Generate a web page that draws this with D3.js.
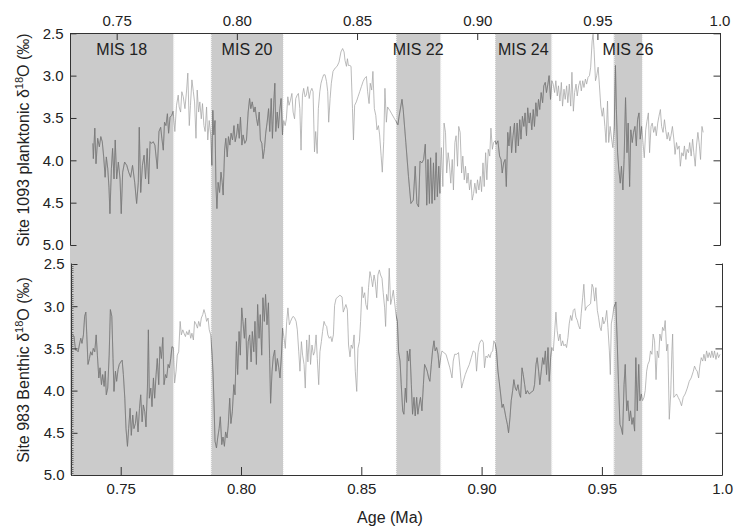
<!DOCTYPE html>
<html><head><meta charset="utf-8">
<script src="https://cdn.jsdelivr.net/npm/d3@7"></script>
<style>
body{margin:0;background:#fff}
text{font-family:"Liberation Sans",Arial,Helvetica,sans-serif;fill:#222}
</style>
</head><body>
<svg id="chart" width="739" height="530"></svg>
<script>
// ---- data: [age (Ma), δ18O (‰)] ----
const site1093 = [[0.7401,3.80],[0.7403,3.98],[0.7409,3.62],[0.7414,4.04],[0.7421,3.74],[0.7428,3.84],[0.7434,3.72],[0.7440,3.78],[0.7446,3.96],[0.7452,4.20],[0.7457,3.96],[0.7463,4.10],[0.7468,4.32],[0.7472,4.63],[0.7478,4.10],[0.7483,3.86],[0.7489,4.22],[0.7494,3.76],[0.7500,4.22],[0.7507,4.02],[0.7514,4.22],[0.7519,4.63],[0.7525,4.14],[0.7533,4.02],[0.7542,4.06],[0.7550,4.14],[0.7558,4.20],[0.7566,4.06],[0.7575,4.26],[0.7583,4.51],[0.7590,4.26],[0.7594,3.61],[0.7600,4.38],[0.7607,4.06],[0.7614,3.94],[0.7620,4.22],[0.7627,3.86],[0.7633,4.28],[0.7639,3.78],[0.7645,3.80],[0.7652,3.78],[0.7659,3.82],[0.7669,4.10],[0.7676,3.66],[0.7683,3.61],[0.7688,3.74],[0.7694,3.88],[0.7699,3.55],[0.7705,3.59],[0.7711,3.45],[0.7716,3.68],[0.7722,3.49],[0.7729,3.47],[0.7735,3.42],[0.7742,3.66],[0.7749,3.35],[0.7756,3.23],[0.7760,3.37],[0.7766,3.43],[0.7771,3.19],[0.7777,3.25],[0.7784,3.39],[0.7791,3.17],[0.7796,2.97],[0.7802,3.59],[0.7807,3.35],[0.7813,3.05],[0.7819,3.19],[0.7824,3.31],[0.7830,3.74],[0.7835,3.17],[0.7841,3.43],[0.7846,3.31],[0.7852,3.51],[0.7857,3.33],[0.7863,3.59],[0.7868,3.66],[0.7874,3.37],[0.7879,3.76],[0.7885,3.53],[0.7891,3.70],[0.7896,4.06],[0.7900,3.41],[0.7904,3.70],[0.7909,3.53],[0.7913,4.30],[0.7917,4.57],[0.7922,4.26],[0.7928,4.38],[0.7934,4.14],[0.7939,4.26],[0.7943,4.41],[0.7949,3.88],[0.7954,3.74],[0.7960,3.96],[0.7965,3.72],[0.7971,3.82],[0.7976,3.68],[0.7982,3.76],[0.7988,3.59],[0.7993,3.78],[0.7999,3.70],[0.8004,3.57],[0.8010,3.74],[0.8015,3.49],[0.8021,3.82],[0.8026,3.70],[0.8033,3.80],[0.8040,3.76],[0.8047,3.43],[0.8053,3.27],[0.8058,3.39],[0.8064,3.31],[0.8071,3.43],[0.8076,3.37],[0.8082,3.51],[0.8087,3.59],[0.8093,3.43],[0.8098,3.76],[0.8104,3.80],[0.8109,3.98],[0.8115,3.86],[0.8120,3.68],[0.8126,3.55],[0.8132,3.39],[0.8137,3.66],[0.8143,3.27],[0.8148,3.74],[0.8154,3.29],[0.8158,3.09],[0.8162,3.66],[0.8168,3.43],[0.8173,3.62],[0.8179,3.39],[0.8184,3.27],[0.8190,3.70],[0.8195,3.53],[0.8201,3.59],[0.8206,3.51],[0.8212,3.25],[0.8217,3.35],[0.8223,3.29],[0.8229,3.21],[0.8234,3.43],[0.8240,3.51],[0.8245,3.27],[0.8251,3.23],[0.8256,3.21],[0.8262,3.39],[0.8267,3.88],[0.8273,3.23],[0.8278,3.15],[0.8284,3.25],[0.8289,3.23],[0.8295,3.13],[0.8301,3.27],[0.8306,3.19],[0.8312,3.15],[0.8317,3.19],[0.8323,3.90],[0.8328,3.66],[0.8334,3.92],[0.8339,3.39],[0.8345,3.19],[0.8350,3.09],[0.8356,3.03],[0.8361,2.99],[0.8367,2.99],[0.8373,3.07],[0.8378,3.19],[0.8382,3.55],[0.8388,3.27],[0.8393,3.09],[0.8400,2.95],[0.8409,2.91],[0.8417,2.89],[0.8425,2.84],[0.8433,2.72],[0.8440,2.68],[0.8446,2.72],[0.8450,2.82],[0.8456,2.89],[0.8460,2.80],[0.8464,2.88],[0.8470,2.88],[0.8475,2.89],[0.8481,3.39],[0.8485,3.76],[0.8490,3.35],[0.8497,3.31],[0.8504,3.25],[0.8511,3.19],[0.8518,3.13],[0.8525,3.07],[0.8532,3.03],[0.8539,3.01],[0.8544,3.19],[0.8550,3.33],[0.8555,3.09],[0.8561,3.17],[0.8566,2.95],[0.8572,3.39],[0.8578,3.47],[0.8583,3.64],[0.8589,3.59],[0.8594,3.70],[0.8600,3.94],[0.8605,4.14],[0.8611,3.78],[0.8616,3.15],[0.8622,3.55],[0.8627,3.37],[0.8636,3.41],[0.8644,3.45],[0.8656,3.51],[0.8670,3.58],[0.8675,3.48],[0.8687,3.28],[0.8692,3.40],[0.8703,3.79],[0.8714,4.19],[0.8724,4.51],[0.8734,4.47],[0.8742,4.07],[0.8749,4.51],[0.8756,4.55],[0.8762,4.01],[0.8770,4.03],[0.8777,3.99],[0.8784,3.81],[0.8790,4.53],[0.8795,3.99],[0.8801,4.51],[0.8806,3.97],[0.8812,4.51],[0.8818,4.03],[0.8823,4.47],[0.8829,3.91],[0.8834,4.43],[0.8840,4.07],[0.8845,4.39],[0.8851,3.85],[0.8857,4.31],[0.8862,3.56],[0.8868,3.67],[0.8873,4.15],[0.8879,3.91],[0.8884,4.03],[0.8890,4.27],[0.8896,3.99],[0.8901,4.35],[0.8907,3.79],[0.8912,3.71],[0.8918,4.07],[0.8923,3.60],[0.8929,3.67],[0.8935,4.15],[0.8940,3.95],[0.8946,4.23],[0.8951,4.07],[0.8957,4.27],[0.8962,4.15],[0.8968,4.35],[0.8974,4.23],[0.8979,4.47],[0.8985,4.39],[0.8990,4.27],[0.8996,4.39],[0.9001,4.23],[0.9007,4.35],[0.9013,4.19],[0.9018,4.37],[0.9024,4.03],[0.9029,4.31],[0.9035,3.91],[0.9040,4.23],[0.9046,3.87],[0.9052,3.95],[0.9057,3.62],[0.9063,3.87],[0.9068,3.79],[0.9074,3.77],[0.9079,3.81],[0.9086,3.77],[0.9093,3.95],[0.9099,3.99],[0.9104,4.15],[0.9110,4.03],[0.9116,3.99],[0.9121,4.31],[0.9127,3.67],[0.9132,3.83],[0.9138,3.60],[0.9143,3.91],[0.9149,3.71],[0.9155,3.56],[0.9160,3.91],[0.9166,3.56],[0.9171,3.83],[0.9177,3.52],[0.9182,3.75],[0.9188,3.48],[0.9194,3.60],[0.9199,3.44],[0.9205,3.71],[0.9210,3.38],[0.9216,3.56],[0.9221,3.44],[0.9227,3.64],[0.9233,3.40],[0.9238,3.60],[0.9244,3.32],[0.9249,3.48],[0.9255,3.28],[0.9260,3.40],[0.9266,3.20],[0.9272,3.32],[0.9277,3.12],[0.9283,3.08],[0.9288,3.20],[0.9294,3.10],[0.9299,3.00],[0.9305,3.28],[0.9311,3.06],[0.9316,3.10],[0.9322,3.20],[0.9327,3.06],[0.9333,3.24],[0.9338,3.12],[0.9344,3.30],[0.9350,3.08],[0.9355,3.36],[0.9361,3.16],[0.9366,3.28],[0.9372,3.12],[0.9377,3.32],[0.9383,3.10],[0.9389,3.36],[0.9394,2.96],[0.9400,3.42],[0.9405,3.20],[0.9411,3.10],[0.9416,3.24],[0.9422,3.12],[0.9428,3.06],[0.9433,3.18],[0.9439,3.06],[0.9444,3.14],[0.9450,3.04],[0.9455,3.10],[0.9461,3.02],[0.9467,3.00],[0.9472,2.90],[0.9478,2.59],[0.9482,2.51],[0.9486,2.69],[0.9492,3.06],[0.9497,3.00],[0.9503,2.90],[0.9508,3.10],[0.9514,3.36],[0.9520,3.48],[0.9525,3.38],[0.9531,3.60],[0.9536,3.79],[0.9542,3.30],[0.9547,3.79],[0.9553,3.60],[0.9559,3.75],[0.9564,3.85],[0.9570,3.60],[0.9575,2.88],[0.9579,3.40],[0.9584,3.91],[0.9589,4.11],[0.9595,4.27],[0.9600,4.07],[0.9606,4.35],[0.9611,3.99],[0.9617,3.26],[0.9623,3.91],[0.9628,3.56],[0.9634,4.31],[0.9639,3.64],[0.9645,3.79],[0.9650,3.67],[0.9656,3.60],[0.9662,3.83],[0.9667,3.52],[0.9673,3.44],[0.9678,3.75],[0.9684,3.60],[0.9689,3.77],[0.9695,3.97],[0.9701,3.64],[0.9706,3.54],[0.9712,3.44],[0.9717,3.91],[0.9723,3.60],[0.9728,3.56],[0.9734,3.67],[0.9740,3.60],[0.9745,3.71],[0.9751,3.56],[0.9756,3.48],[0.9762,3.40],[0.9767,3.60],[0.9773,3.67],[0.9779,3.52],[0.9784,3.64],[0.9790,3.75],[0.9795,3.67],[0.9801,3.77],[0.9806,3.71],[0.9812,3.60],[0.9818,3.75],[0.9823,3.93],[0.9829,3.79],[0.9834,3.87],[0.9840,3.83],[0.9845,4.07],[0.9851,3.91],[0.9857,3.95],[0.9862,3.83],[0.9868,3.99],[0.9873,3.87],[0.9879,3.91],[0.9884,3.79],[0.9890,3.95],[0.9896,3.75],[0.9901,3.91],[0.9907,4.07],[0.9912,3.83],[0.9918,3.67],[0.9923,3.79],[0.9929,3.99],[0.9935,3.60],[0.9940,3.67]];

const site983 = [[0.7301,3.34],[0.7306,3.36],[0.7312,3.52],[0.7317,3.52],[0.7323,3.54],[0.7328,3.46],[0.7334,3.38],[0.7339,3.44],[0.7345,3.34],[0.7350,3.12],[0.7355,3.07],[0.7359,3.34],[0.7364,3.69],[0.7370,3.62],[0.7375,3.54],[0.7381,3.58],[0.7386,3.50],[0.7392,3.54],[0.7398,3.34],[0.7403,3.58],[0.7409,3.85],[0.7414,3.73],[0.7420,3.93],[0.7425,3.81],[0.7431,3.95],[0.7436,3.77],[0.7440,4.05],[0.7446,3.97],[0.7452,3.58],[0.7457,3.04],[0.7463,3.12],[0.7468,3.62],[0.7472,4.01],[0.7478,3.77],[0.7483,3.89],[0.7489,3.75],[0.7494,3.69],[0.7500,3.66],[0.7506,3.64],[0.7511,3.81],[0.7517,4.09],[0.7522,4.45],[0.7528,4.66],[0.7533,4.45],[0.7539,4.21],[0.7544,4.53],[0.7550,4.29],[0.7555,4.45],[0.7561,4.39],[0.7566,4.25],[0.7572,4.49],[0.7578,4.21],[0.7583,4.05],[0.7589,4.37],[0.7594,4.17],[0.7600,4.25],[0.7605,4.43],[0.7611,3.97],[0.7615,3.28],[0.7619,4.09],[0.7625,3.97],[0.7630,4.19],[0.7636,3.85],[0.7641,4.09],[0.7647,3.81],[0.7652,3.62],[0.7658,3.93],[0.7663,3.48],[0.7669,3.62],[0.7675,3.37],[0.7680,3.93],[0.7686,3.81],[0.7691,3.85],[0.7697,3.69],[0.7702,3.73],[0.7708,3.62],[0.7713,3.48],[0.7719,3.49],[0.7724,3.91],[0.7730,3.77],[0.7735,3.58],[0.7741,3.54],[0.7747,3.18],[0.7752,3.34],[0.7758,3.28],[0.7763,3.32],[0.7769,3.36],[0.7774,3.30],[0.7780,3.34],[0.7785,3.28],[0.7791,3.38],[0.7796,3.32],[0.7802,3.40],[0.7807,3.18],[0.7813,3.21],[0.7819,3.26],[0.7824,3.18],[0.7830,3.24],[0.7835,3.14],[0.7841,3.10],[0.7846,3.04],[0.7852,3.10],[0.7857,3.18],[0.7863,3.14],[0.7868,3.28],[0.7874,3.34],[0.7880,3.58],[0.7884,3.81],[0.7888,4.17],[0.7892,4.60],[0.7898,4.68],[0.7903,4.56],[0.7909,4.45],[0.7914,4.31],[0.7920,4.64],[0.7925,4.55],[0.7931,4.66],[0.7936,4.49],[0.7942,4.56],[0.7947,4.41],[0.7953,4.09],[0.7958,4.39],[0.7964,4.25],[0.7970,3.93],[0.7975,4.05],[0.7981,3.42],[0.7986,3.81],[0.7992,3.30],[0.7997,3.58],[0.8003,3.02],[0.8008,3.18],[0.8014,3.38],[0.8019,3.14],[0.8025,3.75],[0.8030,3.42],[0.8036,3.34],[0.8042,3.66],[0.8047,3.30],[0.8053,3.54],[0.8058,3.18],[0.8064,3.69],[0.8069,2.98],[0.8075,3.38],[0.8080,3.10],[0.8086,3.58],[0.8091,2.90],[0.8097,3.18],[0.8102,2.86],[0.8108,3.22],[0.8114,2.96],[0.8119,3.62],[0.8123,4.15],[0.8129,3.77],[0.8134,3.60],[0.8140,3.52],[0.8145,3.77],[0.8151,3.62],[0.8157,3.73],[0.8162,3.85],[0.8168,3.58],[0.8173,3.26],[0.8179,3.38],[0.8184,3.50],[0.8190,3.18],[0.8195,3.02],[0.8201,3.22],[0.8206,3.18],[0.8212,3.14],[0.8217,3.12],[0.8223,3.14],[0.8229,3.18],[0.8234,3.28],[0.8240,3.54],[0.8245,3.77],[0.8251,3.42],[0.8256,3.58],[0.8262,3.69],[0.8267,3.97],[0.8273,3.40],[0.8278,3.66],[0.8284,3.34],[0.8289,3.69],[0.8295,3.46],[0.8301,3.58],[0.8306,3.54],[0.8312,3.34],[0.8317,3.62],[0.8323,3.93],[0.8328,3.54],[0.8334,3.42],[0.8339,3.30],[0.8345,3.18],[0.8350,3.22],[0.8356,3.24],[0.8361,3.34],[0.8367,3.38],[0.8373,3.36],[0.8378,3.42],[0.8384,3.34],[0.8389,2.99],[0.8395,2.91],[0.8403,2.89],[0.8411,2.87],[0.8420,2.89],[0.8425,3.07],[0.8431,3.02],[0.8436,2.98],[0.8442,3.04],[0.8447,3.46],[0.8453,3.60],[0.8458,3.46],[0.8464,3.50],[0.8470,3.34],[0.8475,3.77],[0.8481,4.01],[0.8486,3.50],[0.8492,3.42],[0.8497,3.18],[0.8503,2.77],[0.8508,2.90],[0.8514,2.84],[0.8519,2.98],[0.8525,3.04],[0.8530,2.78],[0.8536,2.59],[0.8542,2.67],[0.8547,2.77],[0.8553,2.63],[0.8558,2.71],[0.8564,2.90],[0.8569,2.63],[0.8575,2.57],[0.8580,2.63],[0.8586,2.67],[0.8591,2.84],[0.8597,3.02],[0.8601,3.24],[0.8605,2.86],[0.8611,2.94],[0.8616,2.55],[0.8622,2.98],[0.8627,2.91],[0.8633,2.81],[0.8638,2.94],[0.8644,3.10],[0.8650,3.18],[0.8655,3.54],[0.8661,3.65],[0.8666,3.93],[0.8672,4.24],[0.8677,4.28],[0.8683,3.97],[0.8688,4.14],[0.8691,3.53],[0.8697,3.65],[0.8702,3.51],[0.8708,3.93],[0.8713,4.28],[0.8719,4.08],[0.8724,4.30],[0.8730,4.08],[0.8735,4.28],[0.8741,4.16],[0.8746,4.08],[0.8752,4.24],[0.8758,3.93],[0.8763,3.69],[0.8769,3.73],[0.8774,3.77],[0.8780,3.85],[0.8785,3.89],[0.8791,3.69],[0.8796,3.53],[0.8802,3.41],[0.8807,3.53],[0.8813,3.49],[0.8819,3.57],[0.8824,3.73],[0.8830,3.61],[0.8835,3.53],[0.8843,3.55],[0.8852,3.57],[0.8860,3.65],[0.8868,3.73],[0.8877,3.85],[0.8882,3.65],[0.8888,3.57],[0.8896,3.57],[0.8904,3.55],[0.8910,3.73],[0.8917,3.97],[0.8924,3.89],[0.8932,3.81],[0.8940,3.75],[0.8949,3.69],[0.8957,3.61],[0.8965,3.53],[0.8974,3.55],[0.8979,3.77],[0.8985,3.55],[0.8990,3.45],[0.8996,3.41],[0.9001,3.40],[0.9007,3.43],[0.9012,3.73],[0.9018,3.59],[0.9024,3.61],[0.9029,3.57],[0.9035,3.61],[0.9040,3.55],[0.9046,3.53],[0.9051,3.41],[0.9057,3.45],[0.9062,3.53],[0.9068,3.77],[0.9073,3.89],[0.9079,4.04],[0.9085,4.20],[0.9090,4.16],[0.9096,4.24],[0.9101,4.32],[0.9107,4.40],[0.9112,4.50],[0.9118,4.32],[0.9123,4.12],[0.9129,4.00],[0.9134,3.87],[0.9140,3.97],[0.9145,4.00],[0.9151,3.93],[0.9157,4.04],[0.9162,4.08],[0.9168,3.73],[0.9173,3.81],[0.9179,3.93],[0.9184,4.04],[0.9190,4.00],[0.9198,4.04],[0.9206,4.02],[0.9215,4.00],[0.9220,3.93],[0.9226,3.69],[0.9231,3.61],[0.9237,3.77],[0.9242,3.93],[0.9248,3.77],[0.9254,3.61],[0.9259,3.69],[0.9265,3.53],[0.9270,3.81],[0.9276,3.49],[0.9281,3.89],[0.9287,3.61],[0.9292,3.49],[0.9298,3.53],[0.9303,3.33],[0.9309,3.07],[0.9314,3.29],[0.9320,3.41],[0.9326,3.33],[0.9331,3.47],[0.9337,3.41],[0.9342,3.47],[0.9348,3.45],[0.9353,3.49],[0.9359,3.37],[0.9364,3.21],[0.9370,3.11],[0.9375,3.17],[0.9381,3.05],[0.9387,3.03],[0.9392,3.13],[0.9398,3.17],[0.9403,3.23],[0.9409,3.27],[0.9414,3.09],[0.9420,2.90],[0.9425,2.74],[0.9431,3.05],[0.9436,3.01],[0.9445,2.99],[0.9453,2.97],[0.9459,2.74],[0.9464,2.78],[0.9470,2.94],[0.9475,2.78],[0.9481,3.05],[0.9486,3.13],[0.9492,3.25],[0.9497,3.29],[0.9503,3.13],[0.9508,3.21],[0.9514,3.17],[0.9520,3.05],[0.9525,3.25],[0.9531,3.53],[0.9535,3.81],[0.9539,3.21],[0.9544,3.13],[0.9550,3.01],[0.9556,2.97],[0.9558,2.95],[0.9564,3.45],[0.9569,3.93],[0.9575,4.40],[0.9580,4.44],[0.9586,4.52],[0.9592,3.93],[0.9597,3.69],[0.9603,4.24],[0.9608,4.12],[0.9614,4.36],[0.9619,4.24],[0.9625,4.40],[0.9630,4.32],[0.9636,4.48],[0.9641,3.61],[0.9647,4.24],[0.9653,3.69],[0.9658,4.12],[0.9664,4.04],[0.9669,4.12],[0.9675,4.08],[0.9680,4.00],[0.9686,3.77],[0.9691,3.69],[0.9697,3.65],[0.9702,3.53],[0.9708,3.57],[0.9713,3.33],[0.9719,3.41],[0.9725,3.87],[0.9730,3.53],[0.9736,3.61],[0.9741,3.33],[0.9747,3.41],[0.9752,3.25],[0.9758,3.29],[0.9763,3.17],[0.9769,3.53],[0.9774,3.45],[0.9780,4.34],[0.9786,4.04],[0.9791,3.53],[0.9794,3.33],[0.9799,4.08],[0.9805,4.06],[0.9810,4.04],[0.9817,4.08],[0.9824,4.12],[0.9831,4.18],[0.9838,4.08],[0.9846,4.04],[0.9855,3.97],[0.9863,3.89],[0.9871,3.85],[0.9880,3.77],[0.9885,3.71],[0.9891,3.75],[0.9896,3.77],[0.9902,3.85],[0.9907,3.71],[0.9913,3.61],[0.9919,3.65],[0.9924,3.57],[0.9930,3.65],[0.9935,3.53],[0.9941,3.61],[0.9946,3.55],[0.9952,3.61],[0.9957,3.53],[0.9963,3.61],[0.9968,3.53],[0.9974,3.63],[0.9980,3.55],[0.9985,3.61],[0.9991,3.57]];

const misLabels = ["MIS 18","MIS 20","MIS 22","MIS 24","MIS 26"];
const misStart  = [0.7300,0.7892,0.8662,0.9074,0.9568];
const misEnd    = [0.7736,0.8192,0.8847,0.9309,0.9686];
const xTicks = [0.75,0.80,0.85,0.90,0.95,1.0];
const xTickLabels = ["0.75","0.80","0.85","0.90","0.95","1.0"];
const yTicks = [2.5,3.0,3.5,4.0,4.5,5.0];
const yTickLabels = ["2.5","3.0","3.5","4.0","4.5","5.0"];
const topTitle = ["Site 1093 planktonic δ","18","O (‰)"];
const botTitle = ["Site 983 Benthic δ","18","O (‰)"];
const xTitle = "Age (Ma)";

// ---- layout ----
const svg = d3.select("#chart");
const xT = d3.scaleLinear().domain([0.73, 1.0]).range([68.6, 717.6]);
const xB = d3.scaleLinear().domain([0.73, 1.0]).range([72.6, 722.2]);
const yT = d3.scaleLinear().domain([2.5, 5.0]).range([33.3, 245]);
const yB = d3.scaleLinear().domain([2.5, 5.0]).range([264, 475]);
const topL = 70, topR = 720, botL = 71, botR = 722;
const axisColor = "#333";
const fmtX = d => xTickLabels[xTicks.indexOf(d)];
const fmtY = d => yTickLabels[yTicks.indexOf(d)];

// bands
const bands = misLabels.map((l, i) => ({label: l, x0: Math.max(topL, xT(misStart[i])), x1: xT(misEnd[i])}));
svg.append("g").selectAll("rect").data(bands).join("rect")
  .attr("x", d => d.x0).attr("width", d => d.x1 - d.x0)
  .attr("y", 33).attr("height", 475 - 33).attr("fill", "#cbcbcb");
const edges = [];
bands.forEach(b => { if (b.x0 > topL + 1) edges.push(b.x0); edges.push(b.x1); });
svg.append("g").selectAll("line").data(edges).join("line")
  .attr("x1", d => d + 0.5).attr("x2", d => d + 0.5).attr("y1", 33).attr("y2", 475)
  .attr("stroke", "#eeeeee").attr("stroke-width", 1).attr("stroke-dasharray", "1,1");

// clip for darker line within bands
const clip = svg.append("defs").append("clipPath").attr("id", "bandclip");
clip.selectAll("rect").data(bands).join("rect")
  .attr("x", d => d.x0).attr("width", d => d.x1 - d.x0).attr("y", 0).attr("height", 530);

function drawSeries(data, xs, ys) {
  const line = d3.line().x(d => xs(d[0])).y(d => ys(d[1]));
  svg.append("path").datum(data).attr("d", line)
    .attr("fill", "none").attr("stroke", "#a4a4a4").attr("stroke-width", 0.75).attr("stroke-linejoin", "round");
  svg.append("path").datum(data).attr("d", line).attr("clip-path", "url(#bandclip)")
    .attr("fill", "none").attr("stroke", "#747474").attr("stroke-width", 0.75).attr("stroke-linejoin", "round");
}
drawSeries(site1093, xT, yT);
drawSeries(site983, xB, yB);

// axes
function styleAxis(g) {
  g.selectAll(".domain").attr("stroke", axisColor);
  g.selectAll(".tick line").attr("stroke", axisColor);
  g.selectAll(".tick text").attr("fill", "#222").attr("font-size", 15)
    .attr("font-family", '"Liberation Sans",Arial,Helvetica,sans-serif');
}
// top x axis
svg.append("g").attr("transform", "translate(0,33)")
  .call(d3.axisTop(xT).tickValues(xTicks).tickFormat(fmtX).tickSizeInner(-7).tickSizeOuter(0).tickPadding(7))
  .call(g => g.select(".domain").remove())
  .call(g => g.selectAll(".tick").filter(d => d === 1.0).select("line").remove())
  .call(g => g.selectAll(".tick").filter(d => d === 1.0).attr("transform", `translate(${topR},0)`))
  .call(styleAxis);
svg.append("line").attr("x1", topL).attr("x2", topR).attr("y1", 33.5).attr("y2", 33.5).attr("stroke", axisColor);

// bottom x axis
svg.append("g").attr("transform", "translate(0,475)")
  .call(d3.axisBottom(xB).tickValues(xTicks).tickFormat(fmtX).tickSizeInner(-8).tickSizeOuter(0).tickPadding(8))
  .call(g => g.select(".domain").remove())
  .call(g => g.selectAll(".tick").filter(d => d === 1.0).select("line").remove())
  .call(styleAxis);
svg.append("line").attr("x1", botL).attr("x2", botR).attr("y1", 475.5).attr("y2", 475.5).attr("stroke", axisColor);

// y axes
function yAxes(ys, xl, xr, y0, y1, minor) {
  const gL = svg.append("g").attr("transform", `translate(${xl + 0.5},0)`)
    .call(d3.axisLeft(ys).tickValues(yTicks).tickFormat(fmtY).tickSizeInner(-6).tickSizeOuter(0).tickPadding(7))
    .call(styleAxis);
  gL.select(".domain").attr("d", `M0,${y0}V${y1}`);
  if (minor) {
    gL.selectAll(".minor").data(d3.range(2.5, 5.0001, 0.025)).join("line").attr("class", "minor")
      .attr("x1", 0).attr("x2", 2).attr("y1", d => Math.round(ys(d)) + 0.5).attr("y2", d => Math.round(ys(d)) + 0.5)
      .attr("stroke", "#555").attr("stroke-width", 0.8);
  }
  const gR = svg.append("g").attr("transform", `translate(${xr + 0.5},0)`)
    .call(d3.axisRight(ys).tickValues(yTicks).tickFormat("").tickSizeInner(-7).tickSizeOuter(0))
    .call(styleAxis);
  gR.select(".domain").attr("d", `M0,${y0}V${y1}`);
}
yAxes(yT, topL, topR, 33, 245.5, false);
yAxes(yB, botL, botR, 263.5, 475.5, true);

// MIS labels
svg.append("g").selectAll("text").data(bands).join("text")
  .attr("x", d => (d.x0 + d.x1) / 2).attr("y", 55).attr("text-anchor", "middle")
  .attr("font-size", 16).text(d => d.label);

// axis titles
function yTitle(parts, cx, cy) {
  const t = svg.append("text").attr("transform", `translate(${cx},${cy}) rotate(-90)`)
    .attr("text-anchor", "middle").attr("font-size", 16);
  t.append("tspan").text(parts[0]);
  t.append("tspan").attr("font-size", 11).attr("dy", -6).text(parts[1]);
  t.append("tspan").attr("dy", 6).text(parts[2]);
}
yTitle(topTitle, 28.5, 140);
yTitle(botTitle, 28.5, 370);
svg.append("text").attr("x", 390).attr("y", 523).attr("text-anchor", "middle")
  .attr("font-size", 16).text(xTitle);
</script>
</body></html>
